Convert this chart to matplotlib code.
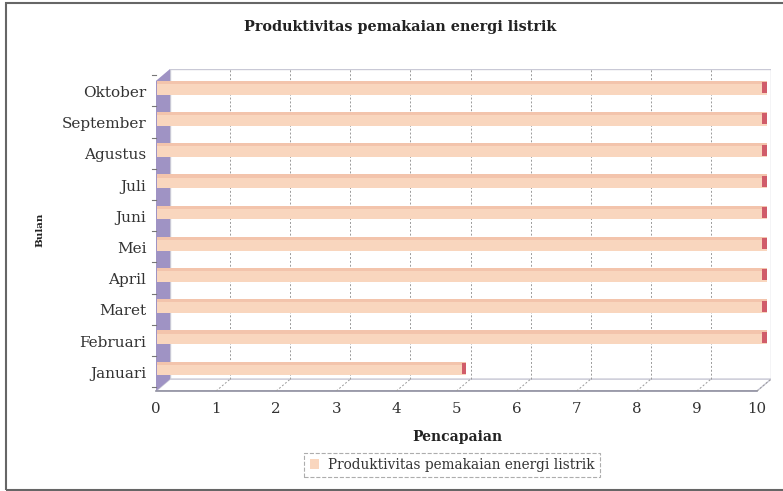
# Produktivitas pemakaian energi listrik - pseudo 3D horizontal bar chart

import matplotlib
matplotlib.use('Agg')
import matplotlib.pyplot as plt
from matplotlib.patches import Polygon, Rectangle, Patch

bulan = ['Januari', 'Februari', 'Maret', 'April', 'Mei',
         'Juni', 'Juli', 'Agustus', 'September', 'Oktober']
pencapaian = [5, 10, 10, 10, 10, 10, 10, 10, 10, 10]
x_ticks = [0, 1, 2, 3, 4, 5, 6, 7, 8, 9, 10]

title_text = 'Produktivitas pemakaian energi listrik'
legend_text = 'Produktivitas pemakaian energi listrik'

plt.rcParams['font.family'] = ['DejaVu Serif']

bar_color = '#F9D6BE'
bar_top = '#F3C4AC'
cap_color = '#D05C6A'
wall_color = '#9F93C4'
grid_color = '#9a9a9a'
frame_color = '#C9C9D6'
text_color = '#333333'

# depth of the fake 3D box (data units)
dx = 0.233
dy = 0.38
x_max = 10
y_lo, y_hi = -0.72, 9.6

fig = plt.figure(figsize=(7.83, 4.91), dpi=100)
fig.patch.set_facecolor('white')
ax = fig.add_axes([156 / 783, 100 / 491, (771 - 156) / 783, (391 - 69) / 491])
ax.set_xlim(0, x_max + dx)
ax.set_ylim(y_lo, y_hi)
ax.set_facecolor('none')
for spine in ax.spines.values():
    spine.set_visible(False)

# back wall
ax.add_patch(Rectangle((dx, y_lo + dy), x_max, y_hi - y_lo - dy,
                       facecolor='white', edgecolor=frame_color, lw=1, zorder=0))
# floor
ax.add_patch(Polygon([(0, y_lo), (x_max, y_lo), (x_max + dx, y_lo + dy), (dx, y_lo + dy)],
                     closed=True, facecolor='white', edgecolor=frame_color, lw=1, zorder=1))
ax.plot([0, x_max], [y_lo, y_lo], color='#8f8f9f', lw=1.2, zorder=2, clip_on=False)
# left wall
ax.add_patch(Polygon([(0, y_lo), (dx, y_lo + dy), (dx, y_hi), (0, y_hi - dy)],
                     closed=True, facecolor=wall_color, edgecolor='none', zorder=1))

# grid lines on back wall and floor
for k in x_ticks[1:-1]:
    ax.plot([k + dx, k + dx], [y_lo + dy, y_hi], color=grid_color, lw=0.7,
            ls=(0, (2, 2)), zorder=1)
for k in x_ticks[1:]:
    ax.plot([k, k + dx], [y_lo, y_lo + dy], color=grid_color, lw=0.7,
            ls=(0, (2, 2)), zorder=2)

# bars
bar_h = 0.44
pos = list(range(len(bulan)))
ext = 0.6 * dx
cap = 0.07
ax.barh(pos, [v + ext for v in pencapaian], height=bar_h, left=0.02,
        color=bar_color, edgecolor='none', zorder=3)
ax.barh([p + bar_h / 2 - 0.05 for p in pos], [v + ext for v in pencapaian], height=0.1,
        left=0.02, color=bar_top, edgecolor='none', zorder=3)
ax.barh(pos, [cap] * len(pos), height=bar_h * 0.8,
        left=[v + ext - cap + 0.02 for v in pencapaian],
        color=cap_color, edgecolor='none', zorder=4)

# ticks
ax.set_xticks(x_ticks)
ax.set_xticklabels([str(t) for t in x_ticks])
ax.set_yticks([p - 0.12 for p in pos])
ax.set_yticklabels(bulan)
ax.tick_params(axis='x', length=0, pad=8, labelsize=10.8, labelcolor=text_color)
ax.tick_params(axis='y', length=0, pad=7, labelsize=11, labelcolor=text_color)
for b in range(len(bulan) + 1):
    ax.plot([-0.07, 0], [b - 0.6, b - 0.6], color='#777777', lw=0.8, clip_on=False, zorder=2)

ax.set_xlabel('Pencapaian', fontsize=10, fontweight='bold', color='#222222')
ax.xaxis.set_label_coords((457 - 156) / 615, (391 - 430) / 322)
ax.set_ylabel('Bulan', fontsize=7.5, fontweight='bold', color='#222222')
ax.yaxis.set_label_coords((44 - 156) / 615, 0.5)

fig.text(400 / 783, 1 - 27 / 491, title_text, ha='center', va='center',
         fontsize=10.4, fontweight='bold', color='#222222')

leg = fig.legend(handles=[Patch(facecolor=bar_color, edgecolor='none')], labels=[legend_text],
                 loc='center', bbox_to_anchor=(452 / 783, 1 - 465 / 491), fontsize=9.8,
                 frameon=True, fancybox=False, handlelength=0.7, handleheight=0.7,
                 handletextpad=0.6, borderpad=0.4, labelcolor=text_color)
leg.get_frame().set_edgecolor('#999999')
leg.get_frame().set_linestyle('--')
leg.get_frame().set_linewidth(0.8)

# outer chart border
fig.patches.append(Rectangle((6 / 783, 1 / 491), 1.2, 1 - 4 / 491, transform=fig.transFigure,
                             fill=False, edgecolor='#666666', lw=1.5))

fig.savefig('out.png', dpi=100)
